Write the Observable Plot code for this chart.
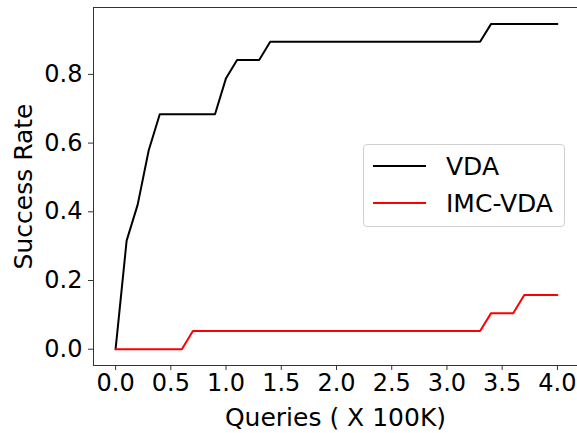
<!DOCTYPE html>
<html>
<head>
<meta charset="utf-8">
<script src="https://cdn.jsdelivr.net/npm/d3@7"></script>
<script src="https://cdn.jsdelivr.net/npm/@observablehq/plot@0.6"></script>
<style>
  html, body { margin: 0; padding: 0; background: #fff; }
  #wrap { position: relative; width: 577px; height: 433px; font-family: "DejaVu Sans", sans-serif; }
  #legend { position: absolute; left: 363px; top: 144px; width: 202px; height: 83px;
    border: 1px solid #d0d0d0; border-radius: 4px; background: rgba(255,255,255,0.8); box-sizing: border-box; }
  .swatch { position: absolute; left: 9px; width: 53px; height: 0; border-top-style: solid; border-top-width: 2px; }
  .lbl { position: absolute; left: 82px; font-size: 25px; line-height: 25px; color: #000; white-space: nowrap; }
</style>
</head>
<body>
<div id="wrap">
  <div id="chart"></div>
  <div id="legend"></div>
</div>
<script>
// Data (queries in units of 100K, success rate)
const vdaQueries = [0.0, 0.1, 0.2, 0.3, 0.4, 0.9, 1.0, 1.1, 1.3, 1.4, 3.3, 3.4, 4.0];
const vdaRate    = [0.0, 0.316, 0.421, 0.579, 0.684, 0.684, 0.789, 0.842, 0.842, 0.895, 0.895, 0.947, 0.947];
const imcQueries = [0.0, 0.6, 0.7, 3.3, 3.4, 3.6, 3.7, 4.0];
const imcRate    = [0.0, 0.0, 0.053, 0.053, 0.105, 0.105, 0.158, 0.158];
const seriesNames = ["VDA", "IMC-VDA"];
const seriesColors = ["#000000", "#ff0000"];
const xTicks = [0, 0.5, 1, 1.5, 2, 2.5, 3, 3.5, 4];
const yTicks = [0, 0.2, 0.4, 0.6, 0.8];
const xLabel = "Queries ( X 100K)";
const yLabel = "Success Rate";

const rows = [
  ...vdaQueries.map((q, i) => ({series: seriesNames[0], q, r: vdaRate[i]})),
  ...imcQueries.map((q, i) => ({series: seriesNames[1], q, r: imcRate[i]}))
];

const chart = Plot.plot({
  width: 577,
  height: 433,
  marginLeft: 93,
  marginRight: 0,
  marginTop: 7,
  marginBottom: 68,
  style: {fontFamily: "DejaVu Sans, sans-serif", fontSize: "24px", color: "#000", background: "#fff"},
  x: {domain: [-0.2, 4.182], ticks: xTicks, tickFormat: d3.format(".1f"), label: null},
  y: {domain: [-0.0474, 0.9947], ticks: yTicks, tickFormat: d3.format(".1f"), label: null},
  color: {domain: seriesNames, range: seriesColors},
  marks: [
    Plot.axisX({ticks: xTicks, tickFormat: d3.format(".1f"), tickSize: 5, tickPadding: 3, fontSize: 24, label: null, stroke: "#333"}),
    Plot.axisY({ticks: yTicks, tickFormat: d3.format(".1f"), tickSize: 5, tickPadding: 6, fontSize: 24, label: null, stroke: "#333"}),
    Plot.line(rows, {x: "q", y: "r", z: "series", stroke: "series", strokeWidth: 2}),
    Plot.frame({stroke: "#333", strokeWidth: 1}),
    Plot.text([xLabel], {frameAnchor: "bottom", dy: 52, fontSize: 25, textAnchor: "middle", lineAnchor: "middle", fill: "#000"}),
    Plot.text([yLabel], {frameAnchor: "left", dx: -70, rotate: -90, fontSize: 25, textAnchor: "middle", lineAnchor: "middle", fill: "#000"})
  ]
});
document.getElementById("chart").appendChild(chart);

const legend = document.getElementById("legend");
const swatchTops = [20, 57];
const labelTops = [9, 46];
seriesNames.forEach((name, i) => {
  const sw = document.createElement("div");
  sw.className = "swatch";
  sw.style.top = swatchTops[i] + "px";
  sw.style.borderTopColor = seriesColors[i];
  const lb = document.createElement("div");
  lb.className = "lbl";
  lb.style.top = labelTops[i] + "px";
  lb.textContent = name;
  legend.appendChild(sw);
  legend.appendChild(lb);
});
</script>
</body>
</html>
